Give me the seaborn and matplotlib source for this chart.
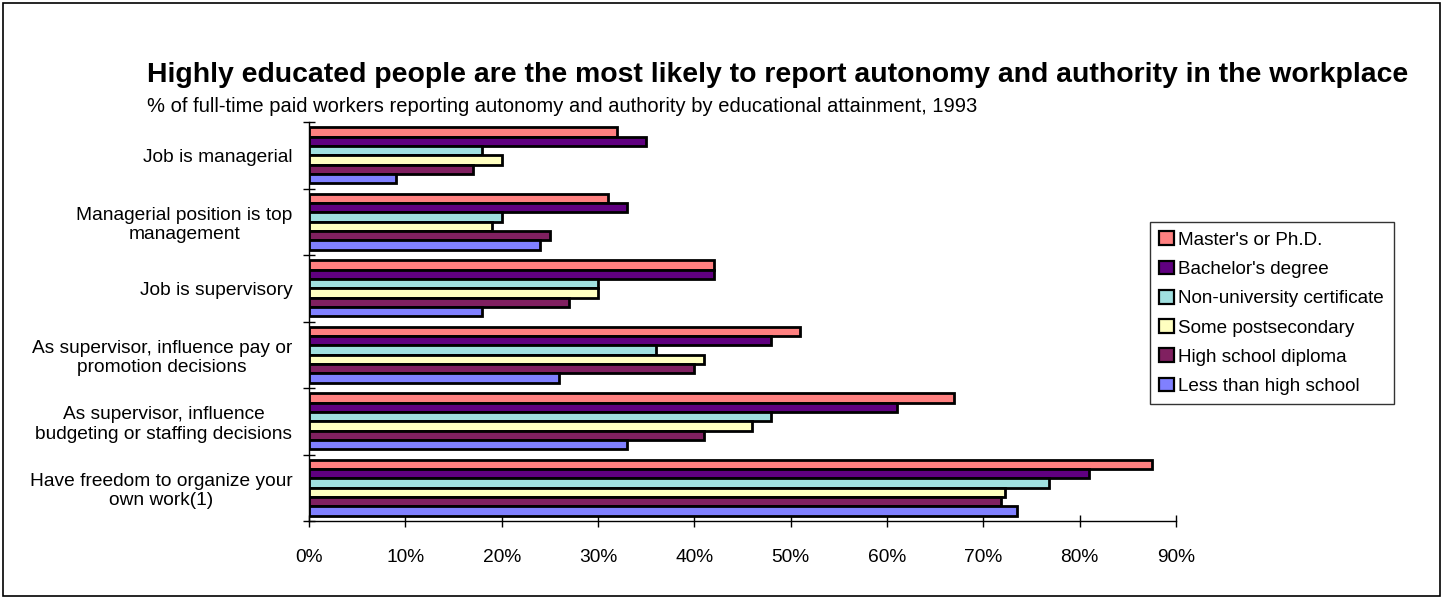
import numpy as np
import pandas as pd
import matplotlib
matplotlib.use("Agg")
import matplotlib.pyplot as plt
from matplotlib.patches import Rectangle
from matplotlib.ticker import FuncFormatter, MultipleLocator
import seaborn as sns

categories = [
    "Job is managerial",
    "Managerial position is top\nmanagement",
    "Job is supervisory",
    "As supervisor, influence pay or\npromotion decisions",
    "As supervisor, influence\nbudgeting or staffing decisions",
    "Have freedom to organize your\nown work(1)",
]
levels = [
    "Master's or Ph.D.",
    "Bachelor's degree",
    "Non-university certificate",
    "Some postsecondary",
    "High school diploma",
    "Less than high school",
]
masters = [32, 31, 42, 51, 67, 87.5]
bachelors = [35, 33, 42, 48, 61, 81]
non_university = [18, 20, 30, 36, 48, 76.8]
some_postsec = [20, 19, 30, 41, 46, 72.2]
high_school = [17, 25, 27, 40, 41, 71.8]
less_than_hs = [9, 24, 18, 26, 33, 73.5]

colors = ["#FF8080", "#600080", "#A0E0E0", "#FFFFC0", "#802060", "#8080FF"]

series = [masters, bachelors, non_university, some_postsec, high_school, less_than_hs]
rows = []
for lvl, vals in zip(levels, series):
    for cat, v in zip(categories, vals):
        rows.append({"category": cat, "level": lvl, "value": v})
df = pd.DataFrame(rows)

sns.set_theme(style="white")
plt.rcParams["font.family"] = ["Liberation Sans", "DejaVu Sans"]
plt.rcParams["text.color"] = "black"
plt.rcParams["xtick.color"] = "black"
plt.rcParams["ytick.color"] = "black"
plt.rcParams["axes.labelcolor"] = "black"

fig = plt.figure(figsize=(14.43, 5.99), dpi=100)
ax = fig.add_axes([309 / 1443, 1 - 521 / 599, (1176 - 309) / 1443, (521 - 122) / 599])

sns.barplot(
    data=df, y="category", x="value", hue="level",
    order=categories, hue_order=levels,
    palette=dict(zip(levels, colors)), saturation=1,
    width=0.84, edgecolor="black", linewidth=2.0, orient="h", ax=ax,
)

ax.set_xlim(0, 90)
ax.xaxis.set_major_locator(MultipleLocator(10))
ax.xaxis.set_major_formatter(FuncFormatter(lambda v, p: f"{v:.0f}%"))
ax.set_xlabel("")
ax.set_ylabel("")
for s in ["top", "right"]:
    ax.spines[s].set_visible(False)
for s in ["left", "bottom"]:
    ax.spines[s].set_color("black")
    ax.spines[s].set_linewidth(1.0)

ax.set_yticks(np.arange(-0.5, len(categories), 1), minor=True)
ax.tick_params(axis="y", which="major", left=True, length=0, pad=12, labelsize=13.8)
ax.tick_params(axis="y", which="minor", left=True, length=9, direction="inout",
               color="black", width=1)
ax.tick_params(axis="x", which="major", bottom=True, length=9, direction="inout",
               color="black", width=1, pad=16, labelsize=13.8)
for t in ax.get_yticklabels():
    t.set_multialignment("center")

handles, labels = ax.get_legend_handles_labels()
ax.get_legend().remove()
leg = fig.legend(
    handles, labels, loc="upper left", bbox_to_anchor=(1150 / 1443, 1 - 222 / 599),
    frameon=True, fancybox=False, shadow=False, fontsize=13.6,
    handlelength=0.75, handleheight=0.75, handletextpad=0.25, labelspacing=0.62,
    borderpad=0.5, borderaxespad=0,
)
leg.get_frame().set_edgecolor("black")
leg.get_frame().set_linewidth(1.0)
for h in leg.legend_handles:
    h.set_linewidth(1.6)

fig.text(147 / 1443, 1 - 75 / 599,
         "Highly educated people are the most likely to report autonomy and authority in the workplace",
         fontsize=20.4, fontweight="bold", ha="left", va="center", color="black")
fig.text(147 / 1443, 1 - 107 / 599,
         "% of full-time paid workers reporting autonomy and authority by educational attainment, 1993",
         fontsize=14.5, ha="left", va="center", color="black")

fig.patches.append(Rectangle((3 / 1443, 3 / 599), 1 - 6 / 1443, 1 - 6 / 599,
                             transform=fig.transFigure, fill=False,
                             edgecolor="black", linewidth=1.2))

fig.savefig("out.png", dpi=100)
